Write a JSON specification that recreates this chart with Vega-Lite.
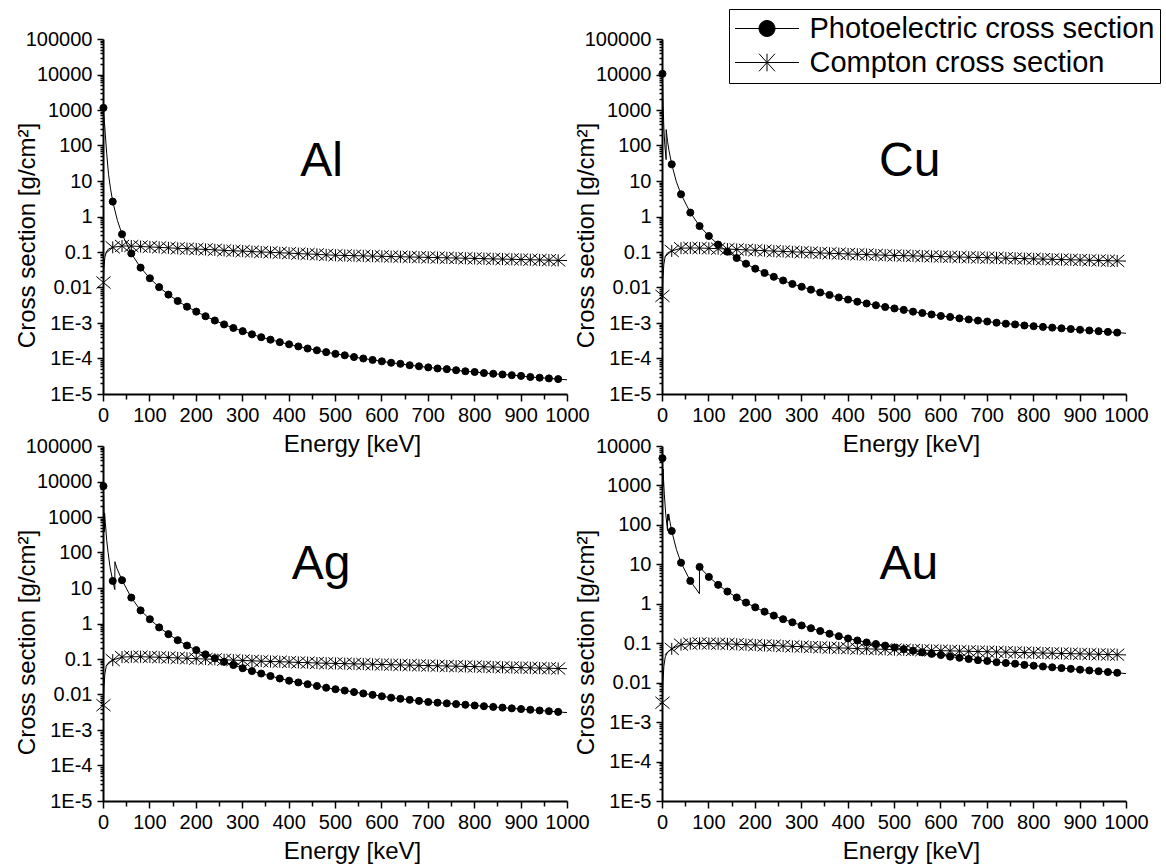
{
  "$schema": "https://vega.github.io/schema/vega-lite/v6.json",
  "background": "white",
  "padding": {"left": 15, "top": 8, "right": 4, "bottom": 4},
  "config": {
    "view": {"stroke": null},
    "font": "Liberation Sans",
    "axis": {
      "domainColor": "black", "domainWidth": 2, "tickColor": "black", "tickWidth": 1.5,
      "labelColor": "black", "labelFont": "Liberation Sans", "labelFontSize": 20,
      "titleFont": "Liberation Sans", "titleFontSize": 24, "titleFontWeight": "normal", "titleColor": "black",
      "grid": false, "labelFlush": false, "labelOverlap": false, "labelBound": false
    }
  },
  "datasets": {
    "Al": [
      {"E":1,"pe":1148,"co":0.0138},{"E":2,"pe":700,"co":0.035},{"E":3,"pe":480},{"E":4,"co":0.07},{"E":5,"pe":200},{"E":7,"co":0.1},{"E":8,"pe":60},{"E":12,"pe":15,"co":0.122},{"E":16,"pe":6.3},
      {"E":21,"pe":2.63,"co":0.135},{"E":31,"pe":0.78},{"E":41,"pe":0.316,"co":0.148},{"E":61,"pe":0.0912,"co":0.147},{"E":81,"pe":0.0363,"co":0.143},
      {"E":101,"pe":0.0182,"co":0.139},{"E":121,"pe":0.01023,"co":0.135},{"E":141,"pe":0.00631,"co":0.131},{"E":161,"pe":0.00417,"co":0.127},{"E":181,"pe":0.00288,"co":0.124},
      {"E":201,"pe":0.00209,"co":0.121},{"E":221,"pe":0.00155,"co":0.118},{"E":241,"pe":0.001175,"co":0.115},{"E":261,"pe":0.000912,"co":0.111},{"E":281,"pe":0.000724,"co":0.108},
      {"E":301,"pe":0.000589,"co":0.106},{"E":321,"pe":0.000479,"co":0.103},{"E":341,"pe":0.000398,"co":0.100},{"E":361,"pe":0.000339,"co":0.098},{"E":381,"pe":0.000288,"co":0.095},
      {"E":401,"pe":0.000251,"co":0.093},{"E":421,"pe":0.000219,"co":0.090},{"E":441,"pe":0.000191,"co":0.088},{"E":461,"pe":0.000170,"co":0.086},{"E":481,"pe":0.000151,"co":0.083},
      {"E":501,"pe":0.000135,"co":0.081},{"E":521,"pe":0.000123,"co":0.0799},{"E":541,"pe":0.000110,"co":0.0788},{"E":561,"pe":0.000100,"co":0.0777},{"E":581,"pe":0.0000912,"co":0.0766},
      {"E":601,"pe":0.0000832,"co":0.0756},{"E":621,"pe":0.0000759,"co":0.0745},{"E":641,"pe":0.0000708,"co":0.0735},{"E":661,"pe":0.0000646,"co":0.0725},{"E":681,"pe":0.0000603,"co":0.0715},
      {"E":701,"pe":0.0000562,"co":0.0705},{"E":721,"pe":0.0000525,"co":0.0695},{"E":741,"pe":0.0000501,"co":0.0686},{"E":761,"pe":0.0000468,"co":0.0676},{"E":781,"pe":0.0000437,"co":0.0667},
      {"E":801,"pe":0.0000417,"co":0.0658},{"E":821,"pe":0.0000389,"co":0.0649},{"E":841,"pe":0.0000372,"co":0.0640},{"E":861,"pe":0.0000355,"co":0.0631},{"E":881,"pe":0.0000339,"co":0.0622},
      {"E":901,"pe":0.0000324,"co":0.0614},{"E":921,"pe":0.0000302,"co":0.0605},{"E":941,"pe":0.0000288,"co":0.0597},{"E":961,"pe":0.0000275,"co":0.0589},{"E":981,"pe":0.0000263,"co":0.0581},
      {"E":1000,"pe":0.0000251,"co":0.0575}
    ],
    "Cu": [
      {"E":1,"pe":10470,"co":0.0058},{"E":2,"pe":2150,"co":0.018},{"E":4,"pe":310,"co":0.045},{"E":6,"pe":105},{"E":7,"co":0.075},{"E":8.9,"pe":40},{"E":9,"pe":280},{"E":12,"pe":130,"co":0.095},{"E":15,"pe":73},
      {"E":21,"pe":29.5,"co":0.107},{"E":31,"pe":9.5},{"E":41,"pe":4.22,"co":0.128},{"E":61,"pe":1.29,"co":0.130},{"E":81,"pe":0.537,"co":0.129},
      {"E":101,"pe":0.282,"co":0.127},{"E":121,"pe":0.162,"co":0.124},{"E":141,"pe":0.102,"co":0.121},{"E":161,"pe":0.0676,"co":0.118},{"E":181,"pe":0.0468,"co":0.115},
      {"E":201,"pe":0.0339,"co":0.112},{"E":221,"pe":0.0257,"co":0.109},{"E":241,"pe":0.0200,"co":0.106},{"E":261,"pe":0.0158,"co":0.104},{"E":281,"pe":0.0126,"co":0.101},
      {"E":301,"pe":0.0105,"co":0.099},{"E":321,"pe":0.0087,"co":0.097},{"E":341,"pe":0.00724,"co":0.094},{"E":361,"pe":0.00617,"co":0.092},{"E":381,"pe":0.00525,"co":0.090},
      {"E":401,"pe":0.00457,"co":0.088},{"E":421,"pe":0.00398,"co":0.086},{"E":441,"pe":0.00355,"co":0.085},{"E":461,"pe":0.00316,"co":0.083},{"E":481,"pe":0.00282,"co":0.081},
      {"E":501,"pe":0.00257,"co":0.080},{"E":521,"pe":0.00234,"co":0.0788},{"E":541,"pe":0.00209,"co":0.0777},{"E":561,"pe":0.00191,"co":0.0765},{"E":581,"pe":0.00174,"co":0.0754},
      {"E":601,"pe":0.00158,"co":0.0743},{"E":621,"pe":0.00148,"co":0.0732},{"E":641,"pe":0.00135,"co":0.0721},{"E":661,"pe":0.00126,"co":0.0711},{"E":681,"pe":0.00117,"co":0.0700},
      {"E":701,"pe":0.00110,"co":0.0690},{"E":721,"pe":0.00102,"co":0.0680},{"E":741,"pe":0.000955,"co":0.0670},{"E":761,"pe":0.000912,"co":0.0660},{"E":781,"pe":0.000851,"co":0.0650},
      {"E":801,"pe":0.000813,"co":0.0641},{"E":821,"pe":0.000776,"co":0.0631},{"E":841,"pe":0.000741,"co":0.0622},{"E":861,"pe":0.000708,"co":0.0613},{"E":881,"pe":0.000676,"co":0.0604},
      {"E":901,"pe":0.000646,"co":0.0595},{"E":921,"pe":0.000617,"co":0.0586},{"E":941,"pe":0.000589,"co":0.0578},{"E":961,"pe":0.000562,"co":0.0569},{"E":981,"pe":0.000537,"co":0.0561},
      {"E":1000,"pe":0.000513,"co":0.0555}
    ],
    "Ag": [
      {"E":1,"pe":7413,"co":0.0050},{"E":2,"pe":1300,"co":0.015},{"E":3.3,"pe":380},{"E":3.4,"pe":1300},{"E":4,"co":0.038},{"E":5,"pe":700},{"E":7,"co":0.062},{"E":8,"pe":220},{"E":11,"pe":100},{"E":12,"co":0.08},{"E":15,"pe":40},
      {"E":21,"pe":15.8,"co":0.093},{"E":25.5,"pe":9.0},{"E":25.6,"pe":55},{"E":30,"pe":36},{"E":41,"pe":16.6,"co":0.113},{"E":61,"pe":5.37,"co":0.116},{"E":81,"pe":2.34,"co":0.116},
      {"E":101,"pe":1.318,"co":0.114},{"E":121,"pe":0.776,"co":0.112},{"E":141,"pe":0.501,"co":0.110},{"E":161,"pe":0.339,"co":0.107},{"E":181,"pe":0.240,"co":0.105},
      {"E":201,"pe":0.178,"co":0.102},{"E":221,"pe":0.135,"co":0.100},{"E":241,"pe":0.105,"co":0.098},{"E":261,"pe":0.0832,"co":0.095},{"E":281,"pe":0.0676,"co":0.093},
      {"E":301,"pe":0.0550,"co":0.091},{"E":321,"pe":0.0457,"co":0.089},{"E":341,"pe":0.0389,"co":0.087},{"E":361,"pe":0.0331,"co":0.085},{"E":381,"pe":0.0282,"co":0.084},
      {"E":401,"pe":0.0245,"co":0.082},{"E":421,"pe":0.0219,"co":0.080},{"E":441,"pe":0.0195,"co":0.079},{"E":461,"pe":0.0174,"co":0.077},{"E":481,"pe":0.0155,"co":0.076},
      {"E":501,"pe":0.0141,"co":0.075},{"E":521,"pe":0.0129,"co":0.0740},{"E":541,"pe":0.0117,"co":0.0730},{"E":561,"pe":0.0107,"co":0.0720},{"E":581,"pe":0.00977,"co":0.0710},
      {"E":601,"pe":0.00891,"co":0.0700},{"E":621,"pe":0.00813,"co":0.0691},{"E":641,"pe":0.00759,"co":0.0681},{"E":661,"pe":0.00708,"co":0.0672},{"E":681,"pe":0.00661,"co":0.0663},
      {"E":701,"pe":0.00617,"co":0.0654},{"E":721,"pe":0.00589,"co":0.0645},{"E":741,"pe":0.00562,"co":0.0636},{"E":761,"pe":0.00537,"co":0.0628},{"E":781,"pe":0.00513,"co":0.0619},
      {"E":801,"pe":0.00490,"co":0.0611},{"E":821,"pe":0.00468,"co":0.0603},{"E":841,"pe":0.00447,"co":0.0594},{"E":861,"pe":0.00427,"co":0.0586},{"E":881,"pe":0.00407,"co":0.0578},
      {"E":901,"pe":0.00389,"co":0.0571},{"E":921,"pe":0.00372,"co":0.0563},{"E":941,"pe":0.00355,"co":0.0555},{"E":961,"pe":0.00339,"co":0.0548},{"E":981,"pe":0.00324,"co":0.0540},
      {"E":1000,"pe":0.00309,"co":0.0535}
    ],
    "Au": [
      {"E":1,"pe":4898,"co":0.0031},{"E":2,"pe":1000,"co":0.010},{"E":2.2,"pe":950},{"E":2.3,"pe":2600},{"E":3.5,"pe":1300},{"E":4,"co":0.026},{"E":5,"pe":600},{"E":7,"co":0.045},{"E":8,"pe":190},
      {"E":11.9,"pe":72},{"E":12,"pe":185,"co":0.06},{"E":13.7,"pe":130},{"E":13.8,"pe":175},{"E":14.3,"pe":160},{"E":14.4,"pe":190},{"E":17,"pe":123},
      {"E":21,"pe":70.0,"co":0.072},{"E":31,"pe":24},{"E":41,"pe":11.0,"co":0.092},{"E":61,"pe":3.80,"co":0.097},{"E":80.7,"pe":1.8},{"E":80.8,"pe":8.7},{"E":81,"pe":8.6,"co":0.099},
      {"E":101,"pe":4.79,"co":0.098},{"E":121,"pe":3.02,"co":0.097},{"E":141,"pe":2.04,"co":0.096},{"E":161,"pe":1.445,"co":0.094},{"E":181,"pe":1.072,"co":0.092},
      {"E":201,"pe":0.813,"co":0.090},{"E":221,"pe":0.631,"co":0.088},{"E":241,"pe":0.501,"co":0.087},{"E":261,"pe":0.407,"co":0.085},{"E":281,"pe":0.339,"co":0.083},
      {"E":301,"pe":0.282,"co":0.082},{"E":321,"pe":0.240,"co":0.080},{"E":341,"pe":0.204,"co":0.079},{"E":361,"pe":0.174,"co":0.077},{"E":381,"pe":0.151,"co":0.076},
      {"E":401,"pe":0.132,"co":0.075},{"E":421,"pe":0.1175,"co":0.073},{"E":441,"pe":0.1047,"co":0.072},{"E":461,"pe":0.0955,"co":0.071},{"E":481,"pe":0.0871,"co":0.070},
      {"E":501,"pe":0.0776,"co":0.069},{"E":521,"pe":0.0708,"co":0.0681},{"E":541,"pe":0.0646,"co":0.0673},{"E":561,"pe":0.0589,"co":0.0665},{"E":581,"pe":0.0537,"co":0.0656},
      {"E":601,"pe":0.0501,"co":0.0648},{"E":621,"pe":0.0457,"co":0.0640},{"E":641,"pe":0.0427,"co":0.0632},{"E":661,"pe":0.0398,"co":0.0624},{"E":681,"pe":0.0372,"co":0.0616},
      {"E":701,"pe":0.0355,"co":0.0609},{"E":721,"pe":0.0331,"co":0.0601},{"E":741,"pe":0.0316,"co":0.0594},{"E":761,"pe":0.0302,"co":0.0586},{"E":781,"pe":0.0282,"co":0.0579},
      {"E":801,"pe":0.0269,"co":0.0572},{"E":821,"pe":0.0257,"co":0.0564},{"E":841,"pe":0.0245,"co":0.0557},{"E":861,"pe":0.0234,"co":0.0550},{"E":881,"pe":0.0224,"co":0.0544},
      {"E":901,"pe":0.0214,"co":0.0537},{"E":921,"pe":0.0204,"co":0.0530},{"E":941,"pe":0.0195,"co":0.0524},{"E":961,"pe":0.0186,"co":0.0517},{"E":981,"pe":0.0178,"co":0.0511},
      {"E":1000,"pe":0.0170,"co":0.0506}
    ]
  },
  "columns": 2,
  "spacing": {"row": 52, "column": 95},
  "bounds": "flush",
  "concat": [
    {
      "width": 464, "height": 355,
      "layer": [
        {
          "data": {"name": "Al"},
          "transform": [{"fold": ["pe", "co"], "as": ["process", "cs"]}, {"filter": "isValid(datum.cs)"}],
          "mark": {"type": "line", "color": "black", "strokeWidth": 1},
          "encoding": {
            "x": {"field": "E", "type": "quantitative", "scale": {"domain": [0, 1000], "nice": false, "zero": false},
                  "axis": {"orient": "bottom", "values": [0,100,200,300,400,500,600,700,800,900,1000], "format": "d", "tickSize": 7, "labelPadding": 4, "title": "Energy [keV]", "titleX": 249, "titleY": 57, "titleBaseline": "alphabetic", "titleAlign": "center"}},
            "y": {"field": "cs", "type": "quantitative", "scale": {"type": "log", "domain": [1e-5, 100000], "nice": false},
                  "axis": {"orient": "left", "values": [1e-5,1e-4,0.001,0.01,0.1,1,10,100,1000,10000,100000], "labelExpr": "datum.value < 0.005 ? '1E' + round(log(datum.value) / LN10) : '' + datum.value", "tickSize": 6, "labelPadding": 5, "title": "Cross section [g/cm²]", "titleX": -76, "titleY": 196, "titleBaseline": "middle", "titleAlign": "center", "titleAngle": -90}},
            "detail": {"field": "process", "type": "nominal"}
          }
        },
        {
          "data": {"name": "Al"},
          "transform": [{"fold": ["pe", "co"], "as": ["process", "cs"]}, {"filter": "isValid(datum.cs)"}, {"filter": "(datum.E - 1) % 20 === 0"}],
          "mark": {"type": "point", "filled": true, "stroke": "black", "strokeWidth": 1, "opacity": 1, "size": 50},
          "encoding": {
            "x": {"field": "E", "type": "quantitative", "axis": {"orient": "bottom", "values": [50,150,250,350,450,550,650,750,850,950], "tickSize": 5, "labels": false, "domain": false, "title": null}},
            "y": {"field": "cs", "type": "quantitative", "axis": {"orient": "left", "values": [2e-5,3e-5,4e-5,5e-5,6e-5,7e-5,8e-5,9e-5,2e-4,3e-4,4e-4,5e-4,6e-4,7e-4,8e-4,9e-4,0.002,0.003,0.004,0.005,0.006,0.007,0.008,0.009,0.02,0.03,0.04,0.05,0.06,0.07,0.08,0.09,0.2,0.3,0.4,0.5,0.6,0.7,0.8,0.9,2,3,4,5,6,7,8,9,20,30,40,50,60,70,80,90,200,300,400,500,600,700,800,900,2000,3000,4000,5000,6000,7000,8000,9000,20000,30000,40000,50000,60000,70000,80000,90000], "tickSize": 3, "labels": false, "domain": false, "title": null}},
            "shape": {"condition": {"test": "datum.process === 'pe'", "value": "circle"}, "value": "M0,-1.7L0,1.7M-2,-1.7L2,1.7M-2,1.7L2,-1.7"},
            "fill": {"condition": {"test": "datum.process === 'pe'", "value": "black"}, "value": "transparent"}
          }
        },
        {
          "data": {"values": [{}]},
          "mark": {"type": "text", "fontSize": 48, "align": "center", "baseline": "alphabetic", "color": "black", "font": "Liberation Sans"},
          "encoding": {"x": {"datum": 471, "type": "quantitative", "axis": null}, "y": {"datum": 13.8, "type": "quantitative", "axis": null}, "text": {"value": "Al"}}
        }
      ],
      "resolve": {"axis": {"x": "independent", "y": "independent"}}
    },
    {
      "width": 464, "height": 355,
      "layer": [
        {
          "data": {"name": "Cu"},
          "transform": [{"fold": ["pe", "co"], "as": ["process", "cs"]}, {"filter": "isValid(datum.cs)"}],
          "mark": {"type": "line", "color": "black", "strokeWidth": 1},
          "encoding": {
            "x": {"field": "E", "type": "quantitative", "scale": {"domain": [0, 1000], "nice": false, "zero": false},
                  "axis": {"orient": "bottom", "values": [0,100,200,300,400,500,600,700,800,900,1000], "format": "d", "tickSize": 7, "labelPadding": 4, "title": "Energy [keV]", "titleX": 249, "titleY": 57, "titleBaseline": "alphabetic", "titleAlign": "center"}},
            "y": {"field": "cs", "type": "quantitative", "scale": {"type": "log", "domain": [1e-5, 100000], "nice": false},
                  "axis": {"orient": "left", "values": [1e-5,1e-4,0.001,0.01,0.1,1,10,100,1000,10000,100000], "labelExpr": "datum.value < 0.005 ? '1E' + round(log(datum.value) / LN10) : '' + datum.value", "tickSize": 6, "labelPadding": 5, "title": "Cross section [g/cm²]", "titleX": -76, "titleY": 196, "titleBaseline": "middle", "titleAlign": "center", "titleAngle": -90}},
            "detail": {"field": "process", "type": "nominal"}
          }
        },
        {
          "data": {"name": "Cu"},
          "transform": [{"fold": ["pe", "co"], "as": ["process", "cs"]}, {"filter": "isValid(datum.cs)"}, {"filter": "(datum.E - 1) % 20 === 0"}],
          "mark": {"type": "point", "filled": true, "stroke": "black", "strokeWidth": 1, "opacity": 1, "size": 50},
          "encoding": {
            "x": {"field": "E", "type": "quantitative", "axis": {"orient": "bottom", "values": [50,150,250,350,450,550,650,750,850,950], "tickSize": 5, "labels": false, "domain": false, "title": null}},
            "y": {"field": "cs", "type": "quantitative", "axis": {"orient": "left", "values": [2e-5,3e-5,4e-5,5e-5,6e-5,7e-5,8e-5,9e-5,2e-4,3e-4,4e-4,5e-4,6e-4,7e-4,8e-4,9e-4,0.002,0.003,0.004,0.005,0.006,0.007,0.008,0.009,0.02,0.03,0.04,0.05,0.06,0.07,0.08,0.09,0.2,0.3,0.4,0.5,0.6,0.7,0.8,0.9,2,3,4,5,6,7,8,9,20,30,40,50,60,70,80,90,200,300,400,500,600,700,800,900,2000,3000,4000,5000,6000,7000,8000,9000,20000,30000,40000,50000,60000,70000,80000,90000], "tickSize": 3, "labels": false, "domain": false, "title": null}},
            "shape": {"condition": {"test": "datum.process === 'pe'", "value": "circle"}, "value": "M0,-1.7L0,1.7M-2,-1.7L2,1.7M-2,1.7L2,-1.7"},
            "fill": {"condition": {"test": "datum.process === 'pe'", "value": "black"}, "value": "transparent"}
          }
        },
        {
          "data": {"name": "Cu"},
          "transform": [{"fold": ["pe", "co"], "as": ["process", "cs"]}, {"filter": "datum.E < 0"}],
          "mark": {"type": "point", "filled": true, "color": "black", "stroke": "black", "strokeWidth": 1, "opacity": 1},
          "encoding": {
            "x": {"field": "E", "type": "quantitative", "axis": null},
            "y": {"field": "cs", "type": "quantitative", "axis": null},
            "shape": {"field": "process", "type": "nominal",
              "scale": {"domain": ["pe", "co"], "range": ["M-4,0L4,0M-1,0A1,1 0 1,1 1,0A1,1 0 1,1 -1,0Z", "M-4,0L4,0M0,-1.1L0,1.1M-1,-1.1L1,1.1M-1,1.1L1,-1.1"]},
              "legend": {"orient": "none", "legendX": 626, "legendY": -30, "title": null,
                "labelExpr": "datum.value === 'pe' ? 'Photoelectric cross section' : 'Compton cross section'",
                "labelFontSize": 29, "labelFont": "Liberation Sans", "labelColor": "black", "labelLimit": 1000,
                "symbolSize": 256, "symbolOffset": 18.5, "labelOffset": 28, "rowPadding": 4, "padding": 5,
                "symbolFillColor": "black", "symbolStrokeColor": "black", "symbolStrokeWidth": 1, "symbolOpacity": 1,
                "strokeColor": "black", "fillColor": "white",
                "encoding": {"symbols": {"stroke": {"value": "black"}, "strokeWidth": {"value": 1}, "fill": {"value": "black"}, "opacity": {"value": 1}}}}}
          }
        },
        {
          "data": {"values": [{}]},
          "mark": {"type": "text", "fontSize": 48, "align": "center", "baseline": "alphabetic", "color": "black", "font": "Liberation Sans"},
          "encoding": {"x": {"datum": 534, "type": "quantitative", "axis": null}, "y": {"datum": 13.8, "type": "quantitative", "axis": null}, "text": {"value": "Cu"}}
        }
      ],
      "resolve": {"axis": {"x": "independent", "y": "independent"}}
    },
    {
      "width": 464, "height": 355,
      "layer": [
        {
          "data": {"name": "Ag"},
          "transform": [{"fold": ["pe", "co"], "as": ["process", "cs"]}, {"filter": "isValid(datum.cs)"}],
          "mark": {"type": "line", "color": "black", "strokeWidth": 1},
          "encoding": {
            "x": {"field": "E", "type": "quantitative", "scale": {"domain": [0, 1000], "nice": false, "zero": false},
                  "axis": {"orient": "bottom", "values": [0,100,200,300,400,500,600,700,800,900,1000], "format": "d", "tickSize": 7, "labelPadding": 4, "title": "Energy [keV]", "titleX": 249, "titleY": 57, "titleBaseline": "alphabetic", "titleAlign": "center"}},
            "y": {"field": "cs", "type": "quantitative", "scale": {"type": "log", "domain": [1e-5, 100000], "nice": false},
                  "axis": {"orient": "left", "values": [1e-5,1e-4,0.001,0.01,0.1,1,10,100,1000,10000,100000], "labelExpr": "datum.value < 0.005 ? '1E' + round(log(datum.value) / LN10) : '' + datum.value", "tickSize": 6, "labelPadding": 5, "title": "Cross section [g/cm²]", "titleX": -76, "titleY": 196, "titleBaseline": "middle", "titleAlign": "center", "titleAngle": -90}},
            "detail": {"field": "process", "type": "nominal"}
          }
        },
        {
          "data": {"name": "Ag"},
          "transform": [{"fold": ["pe", "co"], "as": ["process", "cs"]}, {"filter": "isValid(datum.cs)"}, {"filter": "(datum.E - 1) % 20 === 0"}],
          "mark": {"type": "point", "filled": true, "stroke": "black", "strokeWidth": 1, "opacity": 1, "size": 50},
          "encoding": {
            "x": {"field": "E", "type": "quantitative", "axis": {"orient": "bottom", "values": [50,150,250,350,450,550,650,750,850,950], "tickSize": 5, "labels": false, "domain": false, "title": null}},
            "y": {"field": "cs", "type": "quantitative", "axis": {"orient": "left", "values": [2e-5,3e-5,4e-5,5e-5,6e-5,7e-5,8e-5,9e-5,2e-4,3e-4,4e-4,5e-4,6e-4,7e-4,8e-4,9e-4,0.002,0.003,0.004,0.005,0.006,0.007,0.008,0.009,0.02,0.03,0.04,0.05,0.06,0.07,0.08,0.09,0.2,0.3,0.4,0.5,0.6,0.7,0.8,0.9,2,3,4,5,6,7,8,9,20,30,40,50,60,70,80,90,200,300,400,500,600,700,800,900,2000,3000,4000,5000,6000,7000,8000,9000,20000,30000,40000,50000,60000,70000,80000,90000], "tickSize": 3, "labels": false, "domain": false, "title": null}},
            "shape": {"condition": {"test": "datum.process === 'pe'", "value": "circle"}, "value": "M0,-1.7L0,1.7M-2,-1.7L2,1.7M-2,1.7L2,-1.7"},
            "fill": {"condition": {"test": "datum.process === 'pe'", "value": "black"}, "value": "transparent"}
          }
        },
        {
          "data": {"values": [{}]},
          "mark": {"type": "text", "fontSize": 48, "align": "center", "baseline": "alphabetic", "color": "black", "font": "Liberation Sans"},
          "encoding": {"x": {"datum": 470, "type": "quantitative", "axis": null}, "y": {"datum": 17.6, "type": "quantitative", "axis": null}, "text": {"value": "Ag"}}
        }
      ],
      "resolve": {"axis": {"x": "independent", "y": "independent"}}
    },
    {
      "width": 464, "height": 355,
      "layer": [
        {
          "data": {"name": "Au"},
          "transform": [{"fold": ["pe", "co"], "as": ["process", "cs"]}, {"filter": "isValid(datum.cs)"}],
          "mark": {"type": "line", "color": "black", "strokeWidth": 1},
          "encoding": {
            "x": {"field": "E", "type": "quantitative", "scale": {"domain": [0, 1000], "nice": false, "zero": false},
                  "axis": {"orient": "bottom", "values": [0,100,200,300,400,500,600,700,800,900,1000], "format": "d", "tickSize": 7, "labelPadding": 4, "title": "Energy [keV]", "titleX": 249, "titleY": 57, "titleBaseline": "alphabetic", "titleAlign": "center"}},
            "y": {"field": "cs", "type": "quantitative", "scale": {"type": "log", "domain": [1e-5, 10000], "nice": false},
                  "axis": {"orient": "left", "values": [1e-5,1e-4,0.001,0.01,0.1,1,10,100,1000,10000], "labelExpr": "datum.value < 0.005 ? '1E' + round(log(datum.value) / LN10) : '' + datum.value", "tickSize": 6, "labelPadding": 5, "title": "Cross section [g/cm²]", "titleX": -76, "titleY": 196, "titleBaseline": "middle", "titleAlign": "center", "titleAngle": -90}},
            "detail": {"field": "process", "type": "nominal"}
          }
        },
        {
          "data": {"name": "Au"},
          "transform": [{"fold": ["pe", "co"], "as": ["process", "cs"]}, {"filter": "isValid(datum.cs)"}, {"filter": "(datum.E - 1) % 20 === 0"}],
          "mark": {"type": "point", "filled": true, "stroke": "black", "strokeWidth": 1, "opacity": 1, "size": 50},
          "encoding": {
            "x": {"field": "E", "type": "quantitative", "axis": {"orient": "bottom", "values": [50,150,250,350,450,550,650,750,850,950], "tickSize": 5, "labels": false, "domain": false, "title": null}},
            "y": {"field": "cs", "type": "quantitative", "axis": {"orient": "left", "values": [2e-5,3e-5,4e-5,5e-5,6e-5,7e-5,8e-5,9e-5,2e-4,3e-4,4e-4,5e-4,6e-4,7e-4,8e-4,9e-4,0.002,0.003,0.004,0.005,0.006,0.007,0.008,0.009,0.02,0.03,0.04,0.05,0.06,0.07,0.08,0.09,0.2,0.3,0.4,0.5,0.6,0.7,0.8,0.9,2,3,4,5,6,7,8,9,20,30,40,50,60,70,80,90,200,300,400,500,600,700,800,900,2000,3000,4000,5000,6000,7000,8000,9000], "tickSize": 3, "labels": false, "domain": false, "title": null}},
            "shape": {"condition": {"test": "datum.process === 'pe'", "value": "circle"}, "value": "M0,-1.7L0,1.7M-2,-1.7L2,1.7M-2,1.7L2,-1.7"},
            "fill": {"condition": {"test": "datum.process === 'pe'", "value": "black"}, "value": "transparent"}
          }
        },
        {
          "data": {"values": [{}]},
          "mark": {"type": "text", "fontSize": 48, "align": "center", "baseline": "alphabetic", "color": "black", "font": "Liberation Sans"},
          "encoding": {"x": {"datum": 532, "type": "quantitative", "axis": null}, "y": {"datum": 4.17, "type": "quantitative", "axis": null}, "text": {"value": "Au"}}
        }
      ],
      "resolve": {"axis": {"x": "independent", "y": "independent"}}
    }
  ]
}
